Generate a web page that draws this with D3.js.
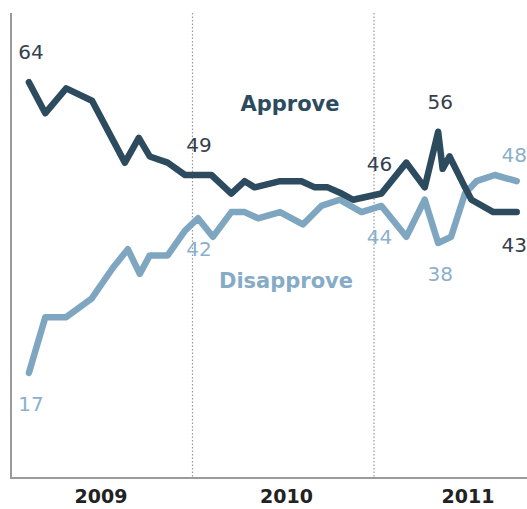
<!DOCTYPE html>
<html>
<head>
<meta charset="utf-8">
<script src="https://cdn.jsdelivr.net/npm/d3@7"></script>
<style>
  body { margin: 0; background: #fff; }
  svg { display: block; font-family: "DejaVu Sans", Verdana, sans-serif; }
</style>
</head>
<body>
<div id="chart"></div>
<script>
// Survey dates and values
const approveDates = ["2009-02-06","2009-03-11","2009-04-22","2009-06-13","2009-08-18","2009-09-15",
  "2009-10-07","2009-11-12","2009-12-17","2010-02-08","2010-03-20","2010-04-16","2010-05-06",
  "2010-06-26","2010-08-08","2010-09-04","2010-09-30","2010-10-28","2010-11-20","2011-01-16",
  "2011-03-07","2011-04-13","2011-05-10","2011-05-19","2011-06-02","2011-07-03","2011-07-16",
  "2011-08-29","2011-10-15"];
const approve = [64, 59, 63, 61, 51, 55, 52, 51, 49, 49, 46, 48, 47, 48, 48, 47, 47, 46, 45, 46,
  51, 47, 56, 50, 52, 47, 45, 43, 43];

const disapproveDates = ["2009-02-06","2009-03-11","2009-04-22","2009-06-12","2009-07-25","2009-08-24",
  "2009-09-17","2009-10-07","2009-11-12","2009-12-17","2010-01-12","2010-02-11","2010-03-20",
  "2010-04-16","2010-05-13","2010-06-26","2010-08-11","2010-09-17","2010-10-24","2010-12-07",
  "2011-01-16","2011-03-07","2011-04-13","2011-05-10","2011-06-05","2011-07-03","2011-07-26",
  "2011-09-01","2011-10-15"];
const disapprove = [17, 26, 26, 29, 34, 37, 33, 36, 36, 40, 42, 39, 43, 43, 42, 43, 41, 44, 45, 43,
  44, 39, 45, 38, 39, 46, 48, 49, 48];

const years = ["2009", "2010", "2011"];

// callout labels: [date, value]
const approveLabels = [["2009-02-06", 64], ["2010-01-10", 49], ["2011-01-08", 46], ["2011-05-10", 56], ["2011-10-15", 43]];
const disapproveLabels = [["2009-02-06", 17], ["2010-01-10", 42], ["2011-01-08", 44], ["2011-05-10", 38], ["2011-10-15", 48]];

const width = 527, height = 509;
const parse = d3.timeParse("%Y-%m-%d");

const svg = d3.select("#chart").append("svg")
    .attr("width", width)
    .attr("height", height);

const x = d3.scaleTime()
    .domain([new Date(2009, 0, 1), new Date(2012, 0, 1)])
    .range([11, 555.5]);
const y = d3.scaleLinear()
    .domain([0, 77.3])
    .range([478, 0]);

const topY = 13;

// year dividers (dotted)
svg.selectAll(".divider")
  .data([new Date(2010, 0, 1), new Date(2011, 0, 1)])
  .enter().append("line")
    .attr("x1", d => x(d)).attr("x2", d => x(d))
    .attr("y1", topY).attr("y2", y(0))
    .attr("stroke", "#999")
    .attr("stroke-width", 1.2)
    .attr("stroke-dasharray", "1.5,2");

// axis frame
svg.append("path")
    .attr("d", `M${x(new Date(2009, 0, 1))},${topY}V${y(0)}H${width}`)
    .attr("fill", "none")
    .attr("stroke", "#9a9a9a")
    .attr("stroke-width", 2);

// year labels
svg.selectAll(".year")
  .data(years)
  .enter().append("text")
    .attr("x", d => x(new Date(+d, 6, 1)) + (d === "2009" ? 0 : 4))
    .attr("y", 503)
    .attr("text-anchor", "middle")
    .attr("font-size", 19)
    .attr("font-weight", "bold")
    .attr("fill", "#222")
    .text(d => d);

const line = d3.line()
    .x(d => x(d[0]))
    .y(d => y(d[1]));

const approveData = approveDates.map((d, i) => [parse(d), approve[i]]);
const disapproveData = disapproveDates.map((d, i) => [parse(d), disapprove[i]]);

svg.append("path")
    .datum(disapproveData)
    .attr("d", line)
    .attr("fill", "none")
    .attr("stroke", "#7fa6c1")
    .attr("stroke-width", 6.5)
    .attr("stroke-linejoin", "round")
    .attr("stroke-linecap", "round");

svg.append("path")
    .datum(approveData)
    .attr("d", line)
    .attr("fill", "none")
    .attr("stroke", "#2d4b5f")
    .attr("stroke-width", 6.5)
    .attr("stroke-linejoin", "round")
    .attr("stroke-linecap", "round");

// value callouts; the last pair swaps sides because the lines have crossed
const lastA = approveLabels.length - 1;
svg.selectAll(".alab")
  .data(approveLabels)
  .enter().append("text")
    .attr("x", (d, i) => i === lastA ? width : x(parse(d[0])) + 2)
    .attr("y", (d, i) => y(d[1]) + (i === lastA ? 40 : -23))
    .attr("text-anchor", (d, i) => i === lastA ? "end" : "middle")
    .attr("font-size", 20)
    .attr("fill", "#34404d")
    .text(d => d[1]);

const lastD = disapproveLabels.length - 1;
svg.selectAll(".dlab")
  .data(disapproveLabels)
  .enter().append("text")
    .attr("x", (d, i) => i === lastD ? width : x(parse(d[0])) + 2)
    .attr("y", (d, i) => y(d[1]) + (i === lastD ? -19 : 38))
    .attr("text-anchor", (d, i) => i === lastD ? "end" : "middle")
    .attr("font-size", 20)
    .attr("fill", "#8bb0cb")
    .text(d => d[1]);

// series names
svg.append("text")
    .attr("x", 290).attr("y", 111)
    .attr("text-anchor", "middle")
    .attr("font-size", 21)
    .attr("font-weight", "bold")
    .attr("fill", "#2d4b5f")
    .text("Approve");

svg.append("text")
    .attr("x", 286).attr("y", 288)
    .attr("text-anchor", "middle")
    .attr("font-size", 21)
    .attr("font-weight", "bold")
    .attr("fill", "#86abc6")
    .text("Disapprove");
</script>
</body>
</html>
